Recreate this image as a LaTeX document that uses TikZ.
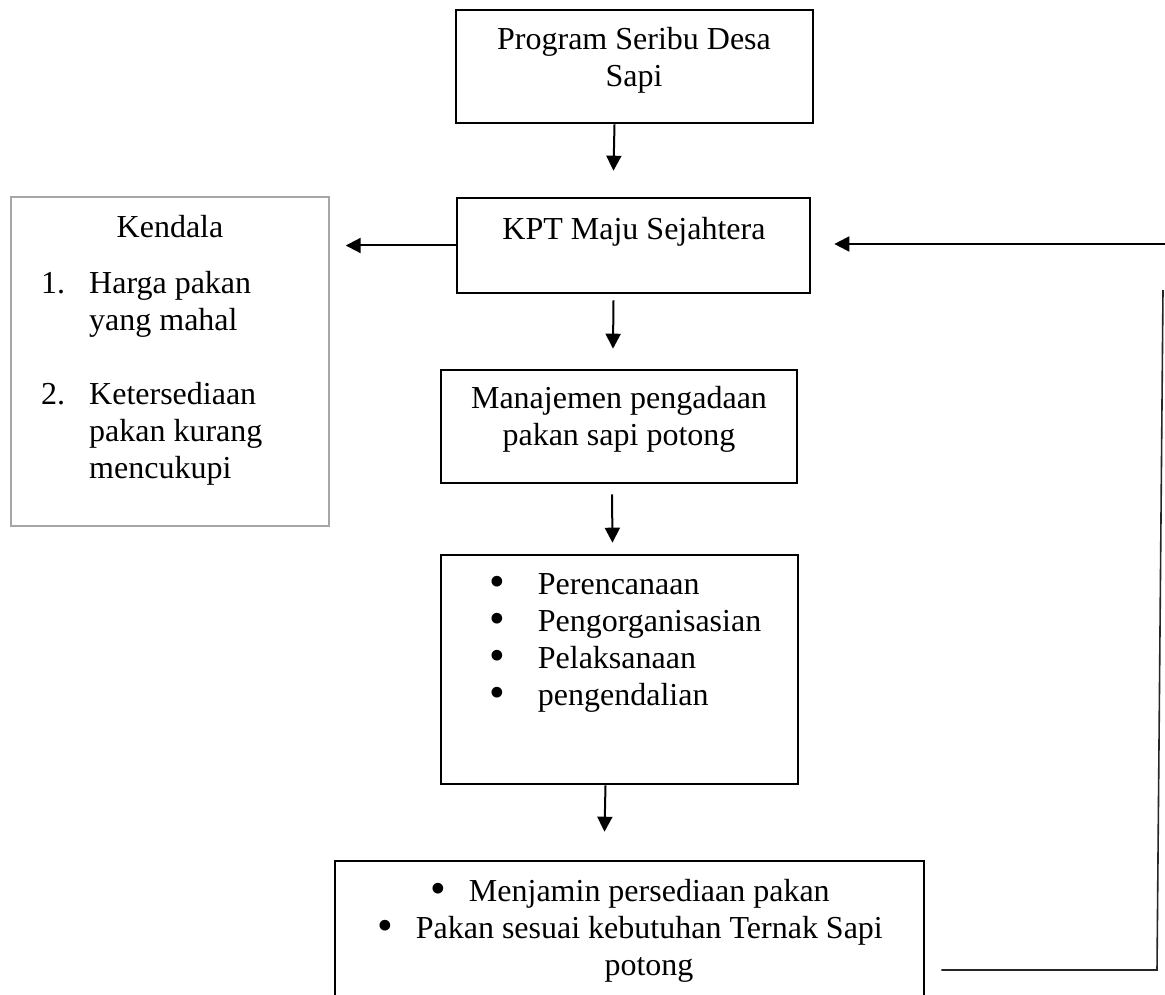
\documentclass[tikz,border=0pt]{standalone}
\usepackage{fontspec}
\usepackage{graphicx}
\setmainfont{Liberation Serif}
\usetikzlibrary{arrows.meta,calc}
\newcommand\blt{\smash{\raisebox{-2.5pt}{\scalebox{1.4}{\textbullet}}}}
\tikzset{
  box/.style={draw,line width=2.6pt,inner sep=0pt},
  graybox/.style={draw=black!35,line width=2.6pt,inner sep=0pt},
  txt/.style={font=\fontsize{32}{37}\selectfont,inner sep=0pt},
  arr/.style={line width=2pt,-{Triangle[length=15pt,width=15pt]}},
  fb/.style={line width=1.6pt,black!85}
}
\begin{document}
\begin{tikzpicture}[x=1pt,y=-1pt]
\useasboundingbox (0,0) rectangle (1165,995);
\clip (0,0) rectangle (1165,995);
% boxes
\node[box,minimum width=357pt,minimum height=113pt] (prog) at (634.5,66.5) {};
\node[box,minimum width=353pt,minimum height=95pt] (kpt) at (633.5,245.5) {};
\node[graybox,minimum width=318pt,minimum height=329pt] (kendala) at (170,361.5) {};
\node[box,minimum width=356pt,minimum height=113pt] (manaj) at (619,426.5) {};
\node[box,minimum width=357pt,minimum height=229pt] (fungsi) at (619.5,669.5) {};
\node[box,minimum width=589pt,minimum height=149pt] (hasil) at (629.5,935.5) {};
% texts (base = last line)
\node[txt,align=center,anchor=base] (prog-t) at (634,87) {Program Seribu Desa\\Sapi};
\node[txt,anchor=base] (kpt-t) at (634,240) {KPT Maju Sejahtera};
\node[txt,anchor=base] (kendala-t) at (170,238) {Kendala};
\node[txt,align=left,anchor=base west] (kendala-l) at (41,478)
  {\makebox[48pt][l]{1.}Harga pakan\\\hspace*{48pt}yang mahal\\[37pt]%
   \makebox[48pt][l]{2.}Ketersediaan\\\hspace*{48pt}pakan kurang\\\hspace*{48pt}mencukupi};
\node[txt,align=center,anchor=base] (manaj-t) at (619,445) {Manajemen pengadaan\\pakan sapi potong};
\node[txt,align=left,anchor=base west] (fungsi-t) at (489,705)
  {\blt\hspace{33pt}Perencanaan\\\blt\hspace{33pt}Pengorganisasian\\%
   \blt\hspace{33pt}Pelaksanaan\\\blt\hspace{33pt}pengendalian};
\node[txt,align=center,anchor=base] (hasil-t) at (630,975)
  {\blt\hspace{23pt}Menjamin persediaan pakan\\%
   \blt\hspace{23pt}Pakan sesuai kebutuhan Ternak Sapi\\\hspace*{38pt}potong};
% arrows
\draw[arr] ([xshift=-20pt]prog.south) -- ([xshift=-20pt,yshift=26pt]kpt.north);
\draw[arr] ([xshift=-20pt,yshift=-6pt]kpt.south) -- ([xshift=-6pt,yshift=20pt]manaj.north);
\draw[arr] ([xshift=-7pt,yshift=-10pt]manaj.south) -- ([xshift=-7pt,yshift=11pt]fungsi.north);
\draw[arr] ([xshift=-14pt]fungsi.south) -- ([xshift=-25pt,yshift=28pt]hasil.north);
\draw[arr] (kpt.west) -- ++(-110,0);
% feedback
\coordinate (fb-top) at (1165,244);
\coordinate (fb-corner) at (1157,970);
\coordinate (fb-end) at (1163,290);
\draw[arr] (fb-top) -- ($(kpt.east |- fb-top)+(23,0)$);
\draw[fb] ($(hasil.east |- fb-corner)+(16,0)$) -- (fb-corner) -- (fb-end);
\end{tikzpicture}
\end{document}
